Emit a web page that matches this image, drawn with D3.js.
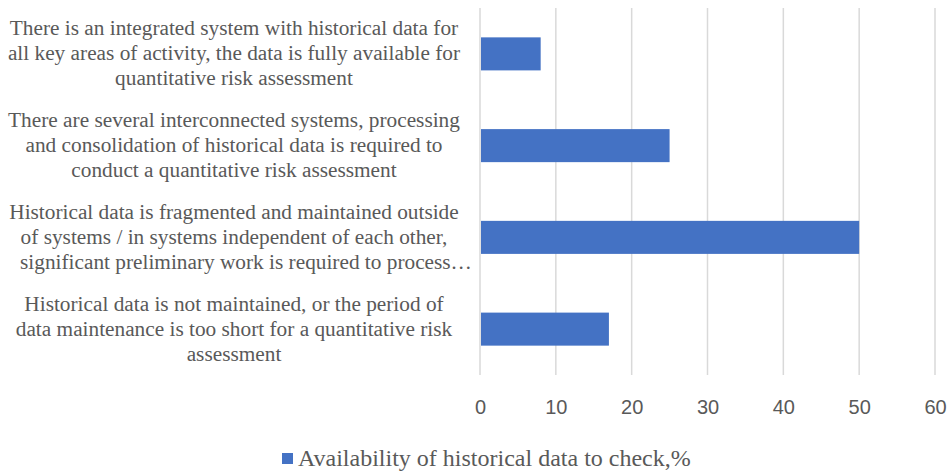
<!DOCTYPE html>
<html>
<head>
<meta charset="utf-8">
<script src="https://cdn.jsdelivr.net/npm/d3@7"></script>
<style>
  body { margin: 0; background: #fff; }
</style>
</head>
<body>
<div id="chart"></div>
<script>
// categorieen, van boven naar beneden
const categories = [
  "integrated",
  "interconnected",
  "fragmented",
  "notMaintained"
];
const categoryLines = [
  ["There is an integrated system with historical data for", "all key areas of activity, the data is fully available for", "quantitative risk assessment"],
  ["There are several interconnected systems, processing", "and consolidation of historical data is required to", "conduct a quantitative risk assessment"],
  ["Historical data is fragmented and maintained outside", "of systems / in systems independent of each other,", "significant preliminary work is required to process…"],
  ["Historical data is not maintained, or the period of", "data maintenance is too short for a quantitative risk", "assessment"]
];
const values = [8, 25, 50, 17];
const seriesName = "Availability of historical data to check,%";
const xTicks = [0, 10, 20, 30, 40, 50, 60];

const width = 952;
const height = 472;
const margin = { top: 8, right: 17, bottom: 97, left: 480 };

const svg = d3.select('#chart')
  .append('svg')
  .attr('width', width)
  .attr('height', height);

// x-as
const x = d3.scaleLinear()
  .domain([0, 60])
  .range([margin.left, width - margin.right]);

// y-as
const y = d3.scaleBand()
  .domain(categories)
  .range([margin.top, height - margin.bottom])
  .paddingInner(0.64)
  .paddingOuter(0.32);

// gridlijnen
svg.append('g')
  .selectAll('line')
  .data(xTicks)
  .join('line')
  .attr('x1', d => x(d))
  .attr('x2', d => x(d))
  .attr('y1', margin.top)
  .attr('y2', height - margin.bottom)
  .attr('stroke', '#d9d9d9')
  .attr('stroke-width', 1.5);

// bars
svg.append('g')
  .selectAll('rect')
  .data(values)
  .join('rect')
  .attr('x', x(0) + 1)
  .attr('y', (d, i) => y(categories[i]))
  .attr('width', d => x(d) - x(0) - 1)
  .attr('height', y.bandwidth())
  .attr('fill', '#4472C4');

// x-as labels
const xAxis = svg.append('g')
  .attr('transform', `translate(0, ${height - margin.bottom + 39})`)
  .call(d3.axisBottom(x).tickValues(xTicks).tickSize(0).tickPadding(0));
xAxis.select('.domain').remove();
xAxis.selectAll('text')
  .attr('dy', 0)
  .style('font-family', '"Liberation Sans", Arial, sans-serif')
  .style('font-size', '20px')
  .style('fill', '#595959');

// categorie labels (meerdere regels)
const lineHeight = 25;
const labels = svg.append('g')
  .selectAll('text')
  .data(categories)
  .join('text')
  .attr('text-anchor', 'middle')
  .style('font-family', '"Liberation Serif"')
  .style('font-size', '21.3px')
  .style('fill', '#595959');

labels.each(function (d, i) {
  const cy = y(d) + y.bandwidth() / 2 + 6.5;
  const lines = categoryLines[i];
  d3.select(this)
    .selectAll('tspan')
    .data(lines)
    .join('tspan')
    .attr('x', l => (l.endsWith('…') ? 246 : 234))
    .attr('y', (l, j) => cy + (j - (lines.length - 1) / 2) * lineHeight)
    .text(l => l);
});

// legenda
const legend = svg.append('g');
legend.append('rect')
  .attr('x', 282)
  .attr('y', 453)
  .attr('width', 11)
  .attr('height', 11)
  .attr('fill', '#4472C4');
legend.append('text')
  .attr('x', 298)
  .attr('y', 466)
  .style('font-family', '"Liberation Serif"')
  .style('font-size', '24px')
  .style('fill', '#595959')
  .text(seriesName);
</script>
</body>
</html>
